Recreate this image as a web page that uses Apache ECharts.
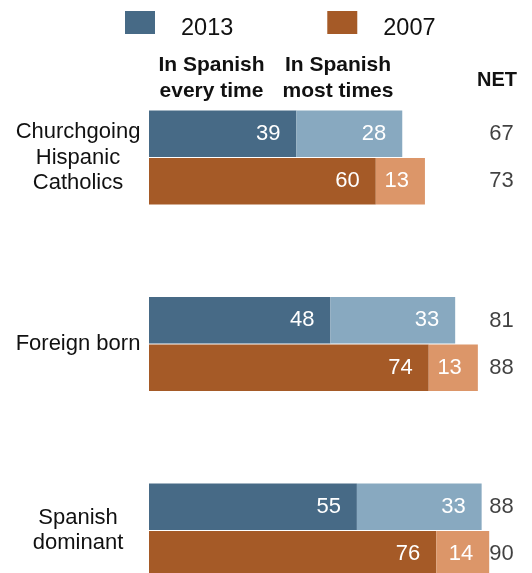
<!DOCTYPE html>
<html>
<head>
<meta charset="utf-8">
<script src="https://cdn.jsdelivr.net/npm/echarts@6/dist/echarts.min.js"></script>
<style>
  html, body { margin: 0; padding: 0; background: #ffffff; }
  #chart { width: 532px; height: 573px; }
</style>
</head>
<body>
<div id="chart"></div>
<script>
// Groups shown on the vertical axis
const groups = ['Churchgoing\nHispanic\nCatholics', 'Foreign born', 'Spanish\ndominant'];

// Share who attend Mass in Spanish, 2013
const everyTime2013 = [39, 48, 55];
const mostTimes2013 = [28, 33, 33];
const net2013 = [67, 81, 88];

// Same measures, 2007
const everyTime2007 = [60, 74, 76];
const mostTimes2007 = [13, 13, 14];
const net2007 = [73, 88, 90];

// Column headers
const headerEvery = 'In Spanish\nevery time';
const headerMost = 'In Spanish\nmost times';
const headerNet = 'NET';

// Axis position (in value units) where the NET column sits
const netColumn = 90.0;

const colors = {
  dark2013: '#476a86',
  light2013: '#88a9c0',
  dark2007: '#a55a27',
  light2007: '#dc9669'
};

const textFont = 'Liberation Sans';

const segLabel = {
  show: true,
  position: 'insideRight',
  distance: 16,
  color: '#ffffff',
  fontFamily: textFont,
  fontSize: 22
};

const barW = 46.5;

function netSeries(name, values, dy) {
  return {
    name: name,
    type: 'scatter',
    symbolSize: 0,
    silent: true,
    data: groups.map((g, i) => [netColumn, g, values[i]]),
    label: {
      show: true,
      position: 'right',
      distance: 0,
      offset: [0, dy],
      color: '#111111',
      fontFamily: textFont,
      fontSize: 22,
      formatter: p => p.value[2]
    }
  };
}

const chart = echarts.init(document.getElementById('chart'), null, { renderer: 'canvas' });

chart.setOption({
  animation: false,
  backgroundColor: '#ffffff',
  legend: {
    data: ['2013', '2007'],
    left: 125,
    top: 11,
    padding: 0,
    icon: 'rect',
    itemWidth: 30,
    itemHeight: 23,
    itemGap: 94,
    selectedMode: false,
    formatter: '{t|{name}}',
    textStyle: {
      rich: {
        t: {
          fontFamily: textFont,
          fontSize: 23.5,
          color: '#111111',
          padding: [12, 0, 0, 21]
        }
      }
    }
  },
  grid: { left: 149, width: 378, top: 64.25, height: 559.5, outerBoundsMode: 'none', containLabel: false },
  xAxis: { type: 'value', min: 0, max: 100, show: false },
  yAxis: {
    type: 'category',
    data: groups,
    inverse: true,
    axisLine: { show: false },
    axisTick: { show: false },
    splitLine: { show: false },
    axisLabel: {
      align: 'center',
      margin: 71,
      fontFamily: textFont,
      fontSize: 22,
      lineHeight: 25.5,
      color: '#111111'
    }
  },
  graphic: [
    {
      type: 'text', x: 211.5, y: 78,
      style: { text: headerEvery, align: 'center', verticalAlign: 'middle',
        font: 'bold 21px "Liberation Sans"', lineHeight: 25.5, fill: '#111111' }
    },
    {
      type: 'text', x: 338, y: 78,
      style: { text: headerMost, align: 'center', verticalAlign: 'middle',
        font: 'bold 21px "Liberation Sans"', lineHeight: 25.5, fill: '#111111' }
    },
    {
      type: 'text', x: 497, y: 80,
      style: { text: headerNet, align: 'center', verticalAlign: 'middle',
        font: 'bold 20px "Liberation Sans"', fill: '#111111' }
    }
  ],
  series: [
    {
      name: '2013', type: 'bar', stack: 's2013', barWidth: barW, barGap: '2%',
      itemStyle: { color: colors.dark2013 }, label: segLabel, data: everyTime2013
    },
    {
      name: '2013 most', type: 'bar', stack: 's2013', barWidth: barW,
      itemStyle: { color: colors.light2013 }, label: segLabel, data: mostTimes2013
    },
    {
      name: '2007', type: 'bar', stack: 's2007', barWidth: barW,
      itemStyle: { color: colors.dark2007 }, label: segLabel, data: everyTime2007
    },
    {
      name: '2007 most', type: 'bar', stack: 's2007', barWidth: barW,
      itemStyle: { color: colors.light2007 }, label: segLabel, data: mostTimes2007
    },
    netSeries('net 2013', net2013, -23.5),
    netSeries('net 2007', net2007, 23.5)
  ]
});
</script>
</body>
</html>
